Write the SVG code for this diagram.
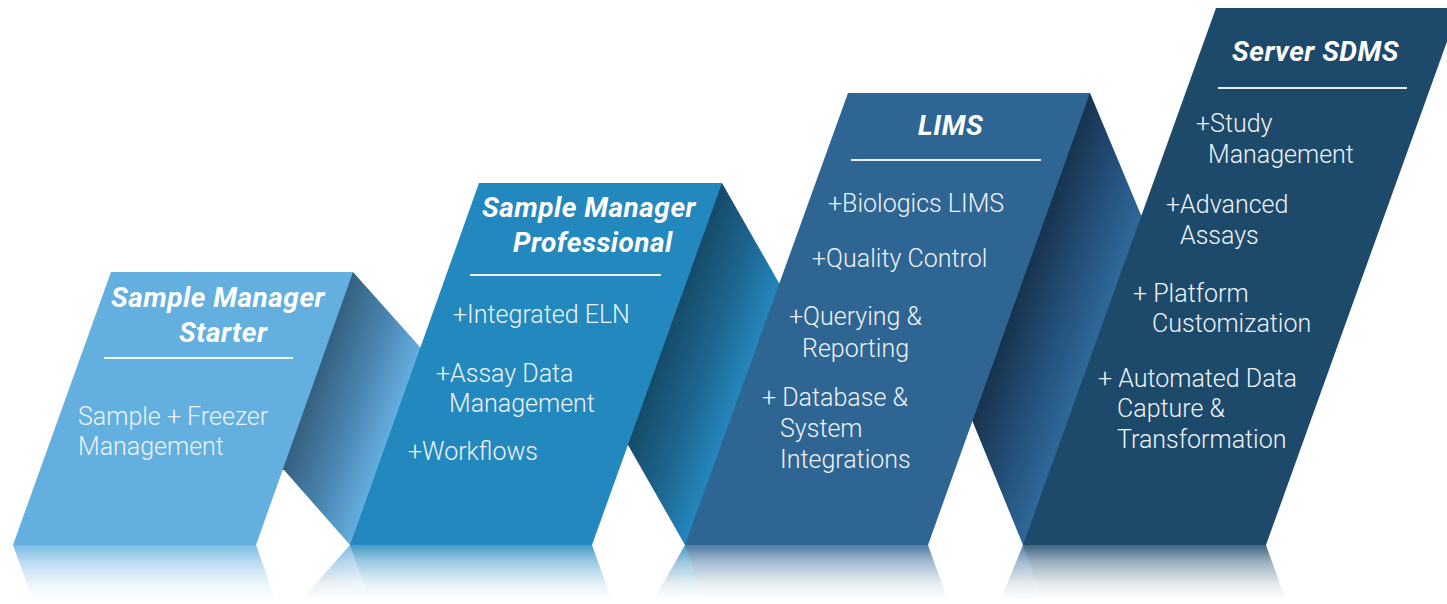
<svg xmlns="http://www.w3.org/2000/svg" xmlns:xlink="http://www.w3.org/1999/xlink" width="1447" height="604" viewBox="0 0 1447 604">
  <style>
    .title { font-family: Roboto, "Liberation Sans", sans-serif; font-weight: 700; font-style: italic; font-size: 28px; letter-spacing: 0.5px; fill: #ffffff; }
    .item { font-family: Roboto, "Liberation Sans", sans-serif; font-weight: 300; font-size: 25px; fill: #eef3f7; }
    .rule { stroke: #ffffff; stroke-width: 2; stroke-opacity: 0.9; }
  </style>
  <defs>
    <!-- shading across each fold, dark at the back edge, lighter where it meets the next panel -->
    <linearGradient id="fold1" gradientUnits="userSpaceOnUse" x1="307" y1="400" x2="391" y2="430">
      <stop offset="0" stop-color="#35607f"/>
      <stop offset="0.55" stop-color="#4b86b2"/>
      <stop offset="1" stop-color="#64addf"/>
    </linearGradient>
    <linearGradient id="fold2" gradientUnits="userSpaceOnUse" x1="662" y1="350" x2="745" y2="380">
      <stop offset="0" stop-color="#164b69"/>
      <stop offset="0.55" stop-color="#1d6791"/>
      <stop offset="1" stop-color="#2486bd"/>
    </linearGradient>
    <linearGradient id="fold3" gradientUnits="userSpaceOnUse" x1="1015" y1="300" x2="1100" y2="330">
      <stop offset="0" stop-color="#17324d"/>
      <stop offset="0.55" stop-color="#23507a"/>
      <stop offset="1" stop-color="#2f6898"/>
    </linearGradient>
    <linearGradient id="fadeGrad" gradientUnits="userSpaceOnUse" x1="0" y1="545" x2="0" y2="600">
      <stop offset="0" stop-color="#ffffff" stop-opacity="0.85"/>
      <stop offset="0.3" stop-color="#ffffff" stop-opacity="0.45"/>
      <stop offset="0.7" stop-color="#ffffff" stop-opacity="0.12"/>
      <stop offset="1" stop-color="#ffffff" stop-opacity="0"/>
    </linearGradient>
    <mask id="fade" maskUnits="userSpaceOnUse" x="0" y="545" width="1447" height="59">
      <rect x="0" y="545" width="1447" height="59" fill="url(#fadeGrad)"/>
    </mask>
  </defs>

  <rect width="1447" height="604" fill="#ffffff"/>

  <!-- folded ribbon sections between the panels -->
  <g id="connectors">
    <polygon id="fold-1" fill="url(#fold1)" points="349,272 353,272 420,347 424,347 354,545 350,545 284,470 280,470"/>
    <polygon id="fold-2" fill="url(#fold2)" points="718,183 722,183 779,283 783,283 689,545 685,545 628,445 624,445"/>
    <polygon id="fold-3" fill="url(#fold3)" points="1086,93 1090,93 1141,215 1145,215 1027,545 1023,545 972,420 968,420"/>
  </g>

  <!-- Sample Manager Starter -->
  <g id="starter">
    <polygon id="panel-1" fill="#62afe0" points="111,272 353,272 256,545 13,545"/>
    <text class="title" x="111" y="307">Sample Manager</text>
    <text class="title" x="179" y="342">Starter</text>
    <line class="rule" x1="104" y1="358" x2="293" y2="358"/>
    <text class="item" x="78" y="425">Sample + Freezer</text>
    <text class="item" x="78" y="455">Management</text>
  </g>

  <!-- Sample Manager Professional -->
  <g id="professional">
    <polygon id="panel-2" fill="#2388be" points="479,183 722,183 592,545 350,545"/>
    <text class="title" x="482" y="217">Sample Manager</text>
    <text class="title" x="513" y="252">Professional</text>
    <line class="rule" x1="470" y1="275" x2="661" y2="275"/>
    <text class="item" x="453" y="323">+Integrated ELN</text>
    <text class="item" x="436" y="382">+Assay Data</text>
    <text class="item" x="449" y="412">Management</text>
    <text class="item" x="408" y="460">+Workflows</text>
  </g>

  <!-- LIMS -->
  <g id="lims">
    <polygon id="panel-3" fill="#2e6593" points="848,93 1090,93 928,545 685,545"/>
    <text class="title" x="918" y="135">LIMS</text>
    <line class="rule" x1="851" y1="160" x2="1041" y2="160"/>
    <text class="item" x="828" y="212">+Biologics LIMS</text>
    <text class="item" x="812" y="267">+Quality Control</text>
    <text class="item" x="789" y="325">+Querying &amp;</text>
    <text class="item" x="802" y="357">Reporting</text>
    <text class="item" x="762" y="406">+ Database &amp;</text>
    <text class="item" x="780" y="437">System</text>
    <text class="item" x="780" y="468">Integrations</text>
  </g>

  <!-- Server SDMS -->
  <g id="sdms">
    <polygon id="panel-4" fill="#1d4a6b" points="1216,8 1459,8 1266,545 1023,545"/>
    <text class="title" x="1232" y="61">Server SDMS</text>
    <line class="rule" x1="1218" y1="88" x2="1407" y2="88"/>
    <text class="item" x="1196" y="132">+Study</text>
    <text class="item" x="1208" y="163">Management</text>
    <text class="item" x="1166" y="213">+Advanced</text>
    <text class="item" x="1180" y="244">Assays</text>
    <text class="item" x="1133" y="302">+ Platform</text>
    <text class="item" x="1152" y="332">Customization</text>
    <text class="item" x="1098" y="387">+ Automated Data</text>
    <text class="item" x="1117" y="417">Capture &amp;</text>
    <text class="item" x="1117" y="448">Transformation</text>
  </g>

  <!-- mirrored floor reflection, fading out downward -->
  <g id="reflection" mask="url(#fade)">
    <g transform="translate(0,1090) scale(1,-1)">
      <use href="#connectors"/>
      <use href="#panel-1"/>
      <use href="#panel-2"/>
      <use href="#panel-3"/>
      <use href="#panel-4"/>
    </g>
  </g>
</svg>
